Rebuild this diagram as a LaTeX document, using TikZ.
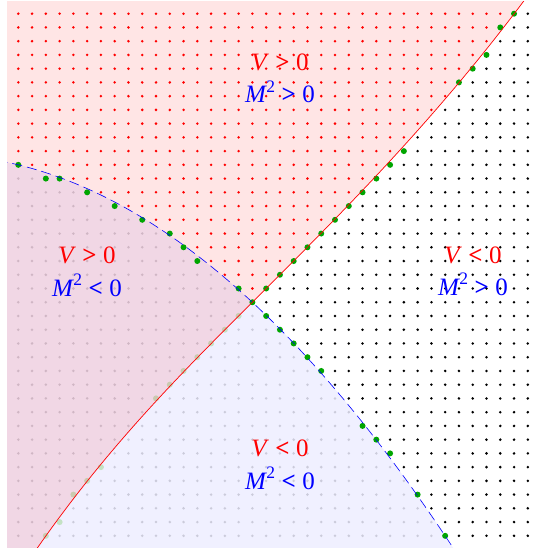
\documentclass[tikz,border=0pt]{standalone}
\usepackage{fontspec}
\setmainfont{Liberation Serif}
\definecolor{lav}{RGB}{237,237,255}
\definecolor{dotgreen}{RGB}{0,165,0}
\definecolor{fadegreen}{RGB}{196,226,196}
\newcommand\MsqX{\textit{M}\kern-0.02em\raisebox{0.42em}{\fontsize{17.5}{17.5}\selectfont 2}}
\newcommand\relX[1]{\hspace{0.26em}\textbf{#1}\hspace{0.26em}0}
\begin{document}
\begin{tikzpicture}[x=1pt,y=-1pt,
  declare function={
    px(\x)=18.3+13.77*\x;
    py(\x)=13.7+13.74*\x;
    rlo(\x)=21-\x-0.00059*\x*\x*\x;
    rhi(\x)=21-\x-0.00029*\x*\x*\x;
    bl(\x)=11+0.245*\x+0.0202*\x*\x;
  },
  greendot/.style={fill=dotgreen},
  fadedot/.style={fill=fadegreen},
  redline/.style={draw=red, line width=0.7pt},
  blueline/.style={draw=blue, line width=0.6pt, dash pattern=on 10pt off 5pt},
  lab/.style={inner sep=0pt, anchor=base, font=\fontsize{25}{30}\selectfont},
]
\useasboundingbox (0,0) rectangle (539,548);
\begin{scope}
\clip (7,2) rectangle (539,548);
% grid of dots
\foreach \i in {0,...,37}{
  \foreach \j in {0,...,38}{
    \pgfmathsetmacro\U{\i-17}
    \pgfmathtruncatemacro\isV{\j < (\U<0 ? rlo(\U) : rhi(\U))}
    \pgfmathtruncatemacro\isM{\j < bl(\i)}
    \def\dc{black}
    \ifnum\isV\isM=11 \def\dc{red}\fi
    \fill[\dc] ({px(\i)},{py(\j)}) circle (1.4);
  }
}
% M^2 < 0 region
\fill[lav, opacity=0.86] (-20,{py(bl(-1.5))})
  -- plot[smooth, samples=60, domain=-1.5:32.5] ({px(\x)},{py(bl(\x))})
  -- (-20,600) -- cycle;
% faded green dots inside the M^2<0 shading
\foreach \i/\j in {16/22,15/23,14/24,13/25,12/26,11/27,10/28,6/33,5/34,4/35,3/37,2/38}
  \fill[fadedot] ({px(\i)},{py(\j)}) circle (3);
% V > 0 region
\fill[red, opacity=0.1] (-20,-20)
  -- plot[smooth, samples=40, domain=19.8:0] ({px(17+\x)},{py(rhi(\x))})
  -- plot[smooth, samples=40, domain=0:-16.5] ({px(17+\x)},{py(rlo(\x))})
  -- (-20,600) -- cycle;
% green dots on the curves
\foreach \i/\j in {17/21,18/20,19/19,20/18,21/17,22/16,23/15,24/14,25/13,26/12,27/11,28/10,32/5,33/4,34/3,35/1,36/0,
  0/11,2/12,3/12,5/13,7/14,9/15,11/16,12/17,13/18,16/20,18/22,19/23,20/24,21/25,22/26,25/30,26/31,27/32,29/35,31/38}
  \fill[greendot] ({px(\i)},{py(\j)}) circle (3);
% curves
\draw[redline] plot[smooth, samples=40, domain=-16.5:0] ({px(17+\x)},{py(rlo(\x))})
  -- plot[smooth, samples=40, domain=0:19.8] ({px(17+\x)},{py(rhi(\x))});
\draw[blueline] plot[smooth, samples=60, domain=-1.5:32.5] ({px(\x)},{py(bl(\x))});
\end{scope}
% labels
\node[lab, text=red]  (tv) at (280,71)  {\textit{V}\relX{>}};
\node[lab, text=blue] (tm) at (280,103) {\MsqX\relX{>}};
\node[lab, text=red]  (lv) at (87,263)  {\textit{V}\relX{>}};
\node[lab, text=blue] (lm) at (87,296)  {\MsqX\relX{<}};
\node[lab, text=red]  (rv) at (473,263) {\textit{V}\relX{<}};
\node[lab, text=blue] (rm) at (473,295) {\MsqX\relX{>}};
\node[lab, text=red]  (bv) at (280,456) {\textit{V}\relX{<}};
\node[lab, text=blue] (bm) at (280,489) {\MsqX\relX{<}};
\end{tikzpicture}
\end{document}
